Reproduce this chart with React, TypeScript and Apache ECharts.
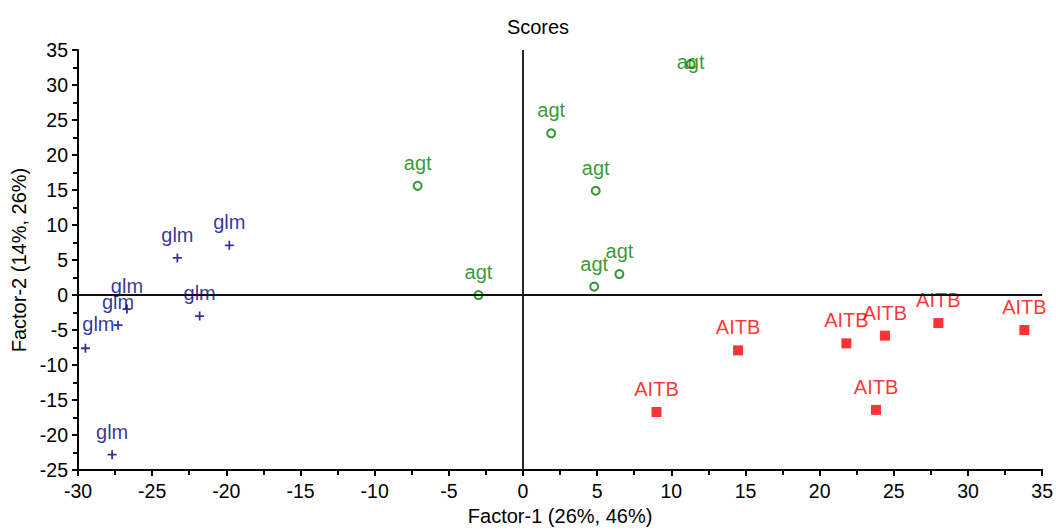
import React, { useEffect, useRef } from "react";
import * as echarts from "echarts";

// Factor scores per sample group: [Factor-1, Factor-2]
const glmScores: number[][] = [
  [-19.8, 7.1],
  [-23.3, 5.3],
  [-21.8, -3.0],
  [-26.7, -2.0],
  [-27.3, -4.3],
  [-29.5, -7.6],
  [-27.7, -22.8],
];
const agtScores: number[][] = [
  [11.3, 33.0],
  [1.9, 23.1],
  [-7.1, 15.6],
  [4.9, 14.9],
  [6.5, 3.0],
  [4.8, 1.2],
  [-3.0, 0.0],
];
const aitbScores: number[][] = [
  [33.8, -5.0],
  [28.0, -4.0],
  [24.4, -5.8],
  [21.8, -6.9],
  [14.5, -7.9],
  [23.8, -16.4],
  [9.0, -16.7],
];

const xTicks = { min: -30, max: 35, interval: 5 };
const yTicks = { min: -25, max: 35, interval: 5 };

const FONT = "Liberation Sans, Arial, sans-serif";
const PLUS = "path://M4 0H6V4H10V6H6V10H4V6H0V4H4Z";

const NAVY = "#000080";
const GREEN = "#008000";
const RED = "#ff0000";

// labels sit centred above each marker; points near the frame get nudged inward
function withLabels(points: number[][], nudges: Record<number, number[]>) {
  return points.map((p, i) => ({
    value: p,
    label: { offset: nudges[i] ?? [0, -23] },
  }));
}

export default function App() {
  const ref = useRef<HTMLDivElement>(null);

  useEffect(() => {
    if (!ref.current) return;
    const chart = echarts.init(ref.current, null, { renderer: "svg" });

    const labelBase = {
      show: true,
      position: "inside",
      fontFamily: FONT,
      fontSize: 20,
    };
    const axisCommon = {
      type: "value",
      axisLine: { onZero: false, lineStyle: { color: "#000", width: 2 } },
      axisTick: { show: true, length: 6, lineStyle: { color: "#000", width: 2 } },
      minorTick: { show: true, splitNumber: 2, length: 5, lineStyle: { color: "#000", width: 2 } },
      splitLine: { show: false },
      nameLocation: "middle",
      nameTextStyle: { fontFamily: FONT, fontSize: 20, color: "#000" },
    };

    chart.setOption({
      animation: false,
      backgroundColor: "#ffffff",
      title: {
        text: "Scores",
        left: 533,
        top: 12,
        textAlign: "center",
        textStyle: { fontFamily: FONT, fontSize: 20, fontWeight: "normal", color: "#000" },
      },
      grid: { left: 78, width: 965, top: 50, height: 426, containLabel: false },
      xAxis: {
        ...axisCommon,
        min: xTicks.min,
        max: xTicks.max,
        interval: xTicks.interval,
        name: "Factor-1 (26%, 46%)",
        nameGap: 34,
        axisLabel: { fontFamily: FONT, fontSize: 19.5, color: "#000", margin: 11 },
      },
      yAxis: {
        ...axisCommon,
        min: yTicks.min,
        max: yTicks.max,
        interval: yTicks.interval,
        name: "Factor-2 (14%, 26%)",
        nameGap: 48,
        nameRotate: 90,
        axisLabel: { fontFamily: FONT, fontSize: 19.5, color: "#000", margin: 10 },
      },
      series: [
        {
          name: "glm",
          type: "scatter",
          symbol: PLUS,
          symbolSize: 9,
          itemStyle: { color: NAVY },
          label: { ...labelBase, color: NAVY, formatter: "glm" },
          data: withLabels(glmScores, { 5: [13, -24] }),
          z: 3,
          markLine: {
            silent: true,
            symbol: "none",
            label: { show: false },
            lineStyle: { color: "#111", width: 1.8, type: "solid" },
            data: [{ xAxis: 0 }, { yAxis: 0 }],
          },
        },
        {
          name: "agt",
          type: "scatter",
          symbol: "circle",
          symbolSize: 8,
          itemStyle: { color: "#ffffff", borderColor: GREEN, borderWidth: 2 },
          label: { ...labelBase, color: GREEN, formatter: "agt" },
          data: withLabels(agtScores, { 0: [0, -2] }),
          z: 3,
        },
        {
          name: "AITB",
          type: "scatter",
          symbol: "rect",
          symbolSize: 10,
          itemStyle: { color: RED },
          label: { ...labelBase, color: RED, formatter: "AITB" },
          data: withLabels(aitbScores, {}),
          z: 3,
        },
      ],
    });

    return () => chart.dispose();
  }, []);

  return (
    <div
      ref={ref}
      style={{ position: "fixed", left: 0, top: 0, width: 1056, height: 531 }}
    />
  );
}
